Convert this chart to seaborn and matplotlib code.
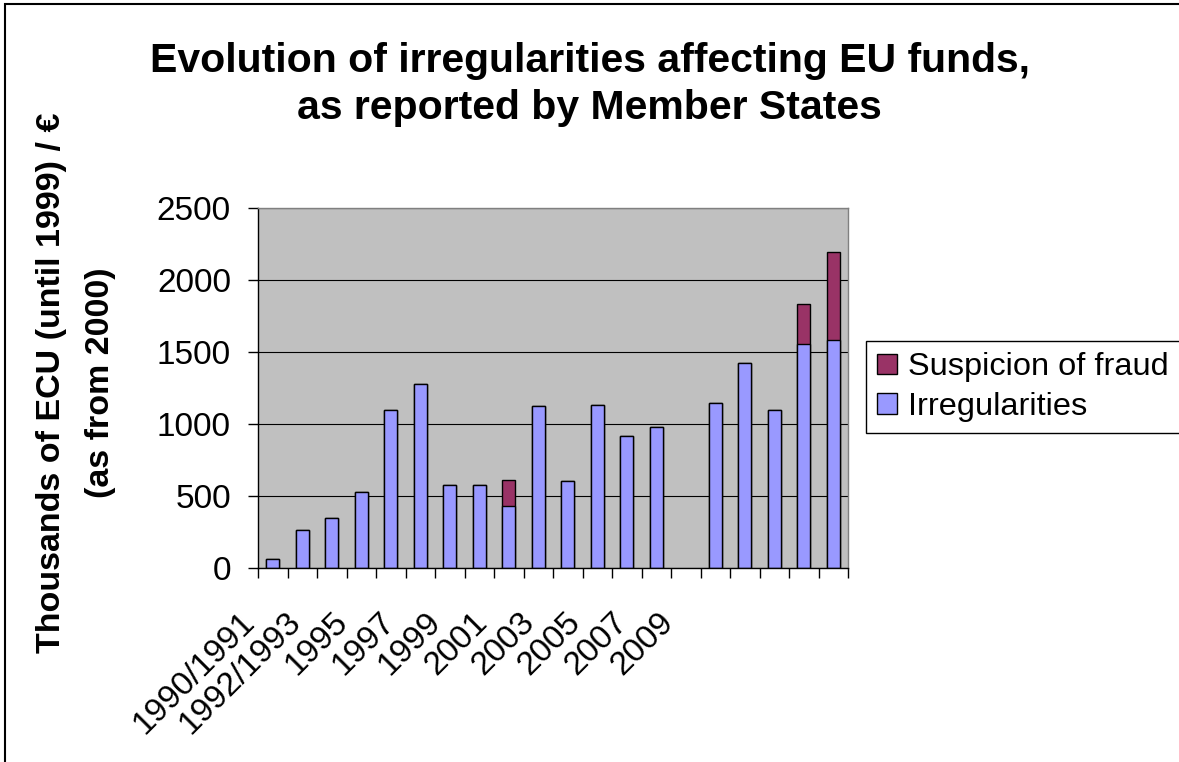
import numpy as np
import pandas as pd
import matplotlib
matplotlib.use("Agg")
import matplotlib.pyplot as plt
from matplotlib.patches import Rectangle
from matplotlib.transforms import ScaledTranslation
import seaborn as sns

plt.rcParams['font.family'] = ['Liberation Sans', 'DejaVu Sans']

# ---- data ----
categories = ["1990/1991", "1991/1992", "1992/1993", "1994", "1995", "1996", "1997",
              "1998", "1999", "2000", "2001", "2002", "2003", "2004", "2005", "2006",
              "2007", "2008", "2009", "2010"]
irregularities = [60, 266, 350, 530, 1100, 1280, 579, 579, 433, 1123, 602, 1134,
                  917, 977, np.nan, 1148, 1424, 1100, 1558, 1581]
suspicion_of_fraud = [0, 0, 0, 0, 0, 0, 0, 0, 178, 0, 0, 0, 0, 0, np.nan, 0, 0, 0,
                      278, 616]
y_ticks = [0, 500, 1000, 1500, 2000, 2500]
shown_labels = categories[::2]

title = "Evolution of irregularities affecting EU funds,\nas reported by Member States"
ylabel = "Thousands of ECU (until 1999) / €\n(as from 2000)"

df = pd.DataFrame({
    "year": categories,
    "irr": irregularities,
    "total": np.array(irregularities, dtype=float) + np.array(suspicion_of_fraud, dtype=float),
})

W, H = 1179, 762
fig = plt.figure(figsize=(W / 100, H / 100), dpi=100)
fig.patch.set_facecolor("white")
ax = fig.add_axes([258 / W, (H - 568) / H, 590 / W, 360 / H])
ax.set_facecolor("#C0C0C0")
ax.set_axisbelow(True)

sns.barplot(data=df, x="year", y="total", order=categories, color="#993366",
            saturation=1, width=0.45, edgecolor="black", linewidth=1,
            errorbar=None, label="Suspicion of fraud", ax=ax)
sns.barplot(data=df, x="year", y="irr", order=categories, color="#9999FF",
            saturation=1, width=0.45, edgecolor="black", linewidth=1,
            errorbar=None, label="Irregularities", ax=ax)

n = len(categories)
ax.set_yticks(y_ticks)
ax.set_yticklabels([str(v) for v in y_ticks], fontsize=24)
ax.tick_params(axis="y", direction="out", length=7.5, width=1, color="black", pad=12)
ax.yaxis.grid(True, color="black", linewidth=0.8)
ax.xaxis.grid(False)

# category boundary tick marks
ax.set_xticks(np.arange(n))
ax.set_xticklabels([""] * n)
ax.tick_params(axis="x", which="major", length=0)
ax.set_xticks(np.arange(n + 1) - 0.5, minor=True)
ax.tick_params(axis="x", which="minor", direction="out", length=7.5, width=1, color="black")
ax.set_xlabel("")
ax.set_xlim(-0.5, n - 0.5)
ax.set_ylim(0, 2500)

for s in ["top", "right"]:
    ax.spines[s].set_color("#808080")
    ax.spines[s].set_linewidth(1)
for s in ["left", "bottom"]:
    ax.spines[s].set_color("black")
    ax.spines[s].set_linewidth(1)

# rotated category labels (Excel-style compressed placement)
ax2 = ax.twiny()
ax2.set_xticks(np.arange(0, n, 2))
ax2.set_xticklabels(shown_labels, fontsize=24, rotation=45, ha="right", va="top",
                    rotation_mode="anchor")
ax2.set_xlim(-0.5, -0.5 + 25.34)
ax2.xaxis.set_ticks_position("bottom")
ax2.xaxis.set_label_position("bottom")
ax2.tick_params(axis="x", length=0, pad=28)
for s in ax2.spines.values():
    s.set_visible(False)
shift = ScaledTranslation(-0.306, 0, fig.dpi_scale_trans)
for lbl in ax2.get_xticklabels():
    lbl.set_transform(lbl.get_transform() + shift)

ax.set_ylabel(ylabel, fontsize=24.5, fontweight="bold", linespacing=1.75)
ax.yaxis.label.set_verticalalignment("center")
ax.yaxis.set_label_coords(-0.3085, 0.514)

fig.suptitle(title, x=0.5, y=1 - 84.5 / H, va="center", fontsize=29.5,
             fontweight="bold", linespacing=1.31)

handles, labels = ax.get_legend_handles_labels()
leg = ax.legend(handles, labels, loc="upper left",
                bbox_to_anchor=(866 / W, 1 - 341 / H), bbox_transform=fig.transFigure,
                frameon=True, fancybox=False, edgecolor="black", framealpha=1,
                fontsize=23.4, handlelength=0.6, handleheight=0.6, handletextpad=0.35,
                labelspacing=0.3, borderpad=0.35, borderaxespad=0)
leg.get_frame().set_linewidth(1)

fig.add_artist(Rectangle((5 / W, -0.5), 2, 0.5 + 1 - 4 / H, transform=fig.transFigure,
                         fill=False, edgecolor="black", linewidth=1.5))

fig.savefig("out.png", dpi=100)
